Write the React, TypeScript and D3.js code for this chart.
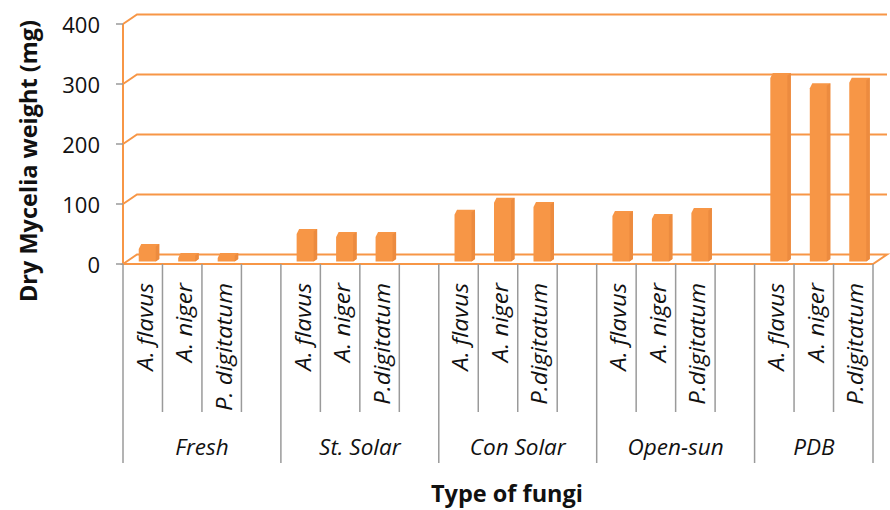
import React, { useEffect, useRef } from 'react';
import * as d3 from 'd3';

// categories (blank slot between groups, as in the original sheet)
const groups = ['Fresh', 'St. Solar', 'Con Solar', 'Open-sun', 'PDB'];
const fungi = ['A. flavus', 'A. niger', 'P. digitatum'];
const fungiAlt = ['A. flavus', 'A. niger', 'P.digitatum'];

// dry mycelia weight (mg) per group, order = fungi
const fresh = [25, 10, 10];
const stSolar = [50, 45, 45];
const conSolar = [82, 102, 95];
const openSun = [80, 75, 85];
const pdb = [310, 293, 302];

const yTicks = [0, 100, 200, 300, 400];

const ORANGE = '#f79646';
const GRAY = '#9a9a9a';
const FONT = '"Open Sans", "Noto Sans", sans-serif';

const App: React.FC = () => {
  const svgRef = useRef<SVGSVGElement>(null);

  useEffect(() => {
    document.body.style.margin = '0';
    if (!svgRef.current) return;
    const svg = d3.select(svgRef.current);
    svg.selectAll('*').remove();

    const values = [fresh, stSolar, conSolar, openSun, pdb];
    type Slot = { key: string; group: number; idx: number; label: string; value: number | null };
    const slots: Slot[] = [];
    groups.forEach((g, gi) => {
      fungi.forEach((f, fi) => {
        slots.push({
          key: `${gi}-${fi}`,
          group: gi,
          idx: fi,
          label: gi === 0 ? f : fungiAlt[fi],
          value: values[gi][fi],
        });
      });
      if (gi < groups.length - 1) slots.push({ key: `${gi}-blank`, group: gi, idx: 3, label: '', value: null });
    });

    const x0 = 123, x1 = 873;
    const floorY = 264;
    const dx = 14, dy = -9.5; // depth offset of the back wall

    const x = d3.scaleBand<string>().domain(slots.map(s => s.key)).range([x0, x1]).padding(0);
    const y = d3.scaleLinear().domain([0, 400]).range([floorY, 24]);

    // gridlines (front corner -> back wall -> across)
    const grid = svg.append('g').attr('fill', 'none').attr('stroke', ORANGE).attr('stroke-width', 2);
    yTicks.filter(t => t > 0).forEach(t => {
      grid.append('path')
        .attr('d', `M${x0},${y(t)} L${x0 + dx},${y(t) + dy} L${x1 + dx},${y(t) + dy}`);
    });
    // floor
    grid.append('path')
      .attr('d', `M${x0},${floorY} L${x0 + dx},${floorY + dy} L${x1 + dx},${floorY + dy} L${x1},${floorY} Z`);
    // value axis line
    grid.append('line').attr('x1', x0).attr('x2', x0).attr('y1', y(400)).attr('y2', floorY);

    // y tick marks + labels
    const yAxis = svg.append('g');
    yTicks.forEach(t => {
      yAxis.append('line')
        .attr('x1', x0 - 7).attr('x2', x0).attr('y1', y(t)).attr('y2', y(t))
        .attr('stroke', GRAY).attr('stroke-width', 1.5);
      yAxis.append('text')
        .attr('x', x0 - 23).attr('y', y(t))
        .attr('text-anchor', 'end').attr('dominant-baseline', 'central')
        .attr('font-family', FONT).attr('font-size', 22).attr('fill', '#111')
        .text(t);
    });

    // bars
    const bd = 3.5, bh = -2.5; // bar depth offsets
    const base = floorY - 2.5;
    const yb = d3.scaleLinear().domain([0, 100]).range([base, base - 60]);
    const bw = 17;
    const bars = svg.append('g').attr('fill', ORANGE);
    slots.filter(s => s.value !== null).forEach(s => {
      const cx = (x(s.key) || 0) + x.bandwidth() / 2;
      const bx = cx - 4;
      const top = yb(s.value as number);
      const c = 2.5;
      bars.append('path')
        .attr('d', `M${bx},${base} L${bx},${top + c} L${bx + c},${top + bh} L${bx + bw + bd},${top + bh} ` +
          `L${bx + bw + bd},${base + bh} L${bx + bw},${base} Z`);
      bars.append('path')
        .attr('fill', '#ec8b3f')
        .attr('d', `M${bx + bw},${top} L${bx + bw + bd},${top + bh} L${bx + bw + bd},${base + bh} L${bx + bw},${base} Z`);
    });

    // category axis: slot separators
    const cat = svg.append('g').attr('stroke', GRAY).attr('stroke-width', 1.5);
    slots.forEach((s, i) => {
      const xl = x(s.key) || 0;
      const long = i === 0 || s.idx === 0;
      cat.append('line').attr('x1', xl).attr('x2', xl).attr('y1', floorY).attr('y2', long ? 463 : 412);
    });
    cat.append('line').attr('x1', x1).attr('x2', x1).attr('y1', floorY).attr('y2', 463);

    // fungus labels (stretched a little along the reading direction like the source)
    const lbl = svg.append('g').attr('font-family', FONT).attr('font-style', 'italic').attr('fill', '#111');
    slots.filter(s => s.label).forEach(s => {
      const cx = (x(s.key) || 0) + x.bandwidth() / 2 + 2;
      lbl.append('text')
        .attr('transform', `translate(${cx},283) rotate(-90) scale(1.14,1)`)
        .attr('text-anchor', 'end').attr('dominant-baseline', 'central')
        .attr('font-size', 21)
        .text(s.label);
    });

    // group labels
    groups.forEach((g, gi) => {
      const inGroup = slots.filter(s => s.group === gi);
      const a = x(inGroup[0].key) || 0;
      const b = (x(inGroup[inGroup.length - 1].key) || 0) + x.bandwidth();
      lbl.append('text')
        .attr('x', (a + b) / 2).attr('y', 455)
        .attr('text-anchor', 'middle')
        .attr('font-size', 22.5)
        .text(g);
    });

    // axis titles
    svg.append('text')
      .attr('transform', `translate(28,161) rotate(-90)`)
      .attr('text-anchor', 'middle').attr('dominant-baseline', 'central')
      .attr('font-family', FONT).attr('font-weight', 700).attr('font-size', 23.5).attr('fill', '#111')
      .text('Dry Mycelia weight (mg)');
    svg.append('text')
      .attr('x', 507).attr('y', 502)
      .attr('text-anchor', 'middle')
      .attr('font-family', FONT).attr('font-weight', 700).attr('font-size', 23.5).attr('fill', '#111')
      .text('Type of fungi');
  }, []);

  return (
    <div style={{ width: 890, height: 510, background: '#fff' }}>
      <svg ref={svgRef} width={890} height={510} style={{ display: 'block' }} />
    </div>
  );
};

export default App;
